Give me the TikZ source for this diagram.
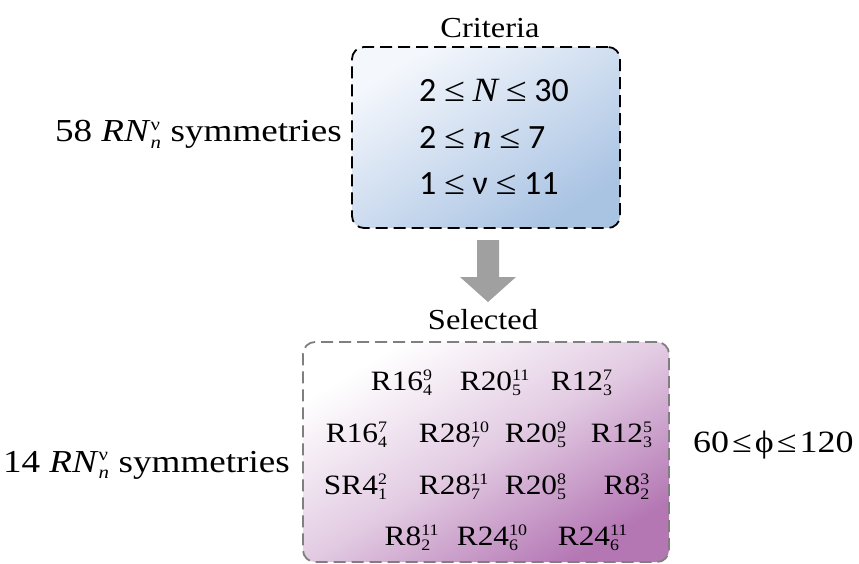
\documentclass[tikz,border=0pt]{standalone}
\usepackage{fontspec}
\setmainfont[FakeStretch=1.12]{Liberation Serif}
\newfontfamily\wideserif[FakeStretch=1.16]{Liberation Serif}
\newfontfamily\sansf{Carlito}
\definecolor{blueA}{HTML}{F4F7FC}
\definecolor{blueB}{HTML}{A9C3E3}
\definecolor{purA}{HTML}{FFFFFF}
\definecolor{purB}{HTML}{B477B4}
\definecolor{arrowgray}{HTML}{A0A0A0}
\definecolor{dashgray}{HTML}{7F7F7F}
\pgfdeclareverticalshading{bluesh}{100bp}{color(0bp)=(blueB); color(25bp)=(blueB); color(50bp)=(blueA!50!blueB); color(75bp)=(blueA); color(100bp)=(blueA)}
\pgfdeclareverticalshading{pursh}{100bp}{color(0bp)=(purB); color(25bp)=(purB); color(50bp)=(purA!62!purB); color(75bp)=(purA); color(100bp)=(purA)}
% stacked super/subscript: [size]{sup}{sub}
\newcommand\sbp[3][16]{{\fontsize{#1}{#1}\selectfont\setbox0=\hbox{#2}\setbox2=\hbox{#3}\dimen0=\wd0 \ifdim\wd2>\dimen0 \dimen0=\wd2 \fi\rlap{\raisebox{0.62em}{\box0}}\rlap{\raisebox{-0.36em}{\box2}}\hskip\dimen0}}
\newcommand\RNn{\textit{RN}\sbp[18]{ν}{\textit{n}}}
\newcommand\myle{{\rmfamily ≤}}
\tikzset{
  serif/.style={font=\fontsize{29}{32}\selectfont, inner sep=0pt},
  lab/.style={font=\wideserif\fontsize{32}{34}\selectfont, inner sep=0pt},
  crit/.style={font=\sansf\fontsize{34}{36}\selectfont, inner sep=0pt, anchor=base west},
  entry/.style={font=\fontsize{28}{30}\selectfont, inner sep=0pt, anchor=base},
  critbox/.style={rounded corners=12pt, draw=black, line width=1.8pt,
    dash pattern=on 12pt off 6pt, shading=bluesh, shading angle=32,
    minimum width=268pt, minimum height=181pt},
  selbox/.style={rounded corners=12pt, draw=dashgray, line width=1.8pt,
    dash pattern=on 12pt off 6pt, shading=pursh, shading angle=31,
    minimum width=366pt, minimum height=220pt},
}
\begin{document}
\begin{tikzpicture}[x=1pt,y=-1pt]
\useasboundingbox (0,0) rectangle (859,564);
\node[critbox] (box1) at (486,137.5) {};
\node[serif] (crittitle) at (490,28) {Criteria};
\node[crit] (c1) at (419,102) {2 \myle{} {\rmfamily\itshape N} \myle{} 30};
\node[crit] (c2) at (419,149) {2 \myle{} {\rmfamily\itshape n} \myle{} 7};
\node[crit] (c3) at (419,195) {1 \myle{} ν \myle{} 11};
\node[lab, anchor=base east] (lab58) at (342,142) {58 \RNn\hspace{0.3em}symmetries};

\coordinate (a1) at (477,240);
\coordinate (a2) at (499,240);
\coordinate (a3) at (499,277);
\coordinate (a4) at (516,277);
\coordinate (atip) at (488,302);
\coordinate (a6) at (460,277);
\coordinate (a7) at (477,277);
\fill[arrowgray] (a1) -- (a2) -- (a3) -- (a4) -- (atip) -- (a6) -- (a7) -- cycle;

\node[serif] (seltitle) at (483,320) {Selected};
\node[selbox] (box2) at (486,452) {};

\node[entry] (e11) at (397,390) {R16\sbp{9}{4}};
\node[entry] (e12) at (486,390) {R20\sbp{11}{5}};
\node[entry] (e13) at (577,390) {R12\sbp{7}{3}};
\node[entry] (e21) at (352,442) {R16\sbp{7}{4}};
\node[entry] (e22) at (445,442) {R28\sbp{10}{7}};
\node[entry] (e23) at (531,442) {R20\sbp{9}{5}};
\node[entry] (e24) at (617,442) {R12\sbp{5}{3}};
\node[entry] (e31) at (351,494) {SR4\sbp{2}{1}};
\node[entry] (e32) at (445,494) {R28\sbp{11}{7}};
\node[entry] (e33) at (531,494) {R20\sbp{8}{5}};
\node[entry] (e34) at (622,494) {R8\sbp{3}{2}};
\node[entry] (e41) at (403,545) {R8\sbp{11}{2}};
\node[entry] (e42) at (483,545) {R24\sbp{10}{6}};
\node[entry] (e43) at (584,545) {R24\sbp{11}{6}};

\node[lab, anchor=base east] (lab14) at (290,472) {14 \RNn\hspace{0.3em}symmetries};
\node[lab, anchor=base west, font=\wideserif\fontsize{31}{34}\selectfont] (labphi) at (693,452) {60\hspace{3pt}≤\hspace{3pt}ϕ\hspace{3pt}≤\hspace{3pt}120};
\end{tikzpicture}
\end{document}
